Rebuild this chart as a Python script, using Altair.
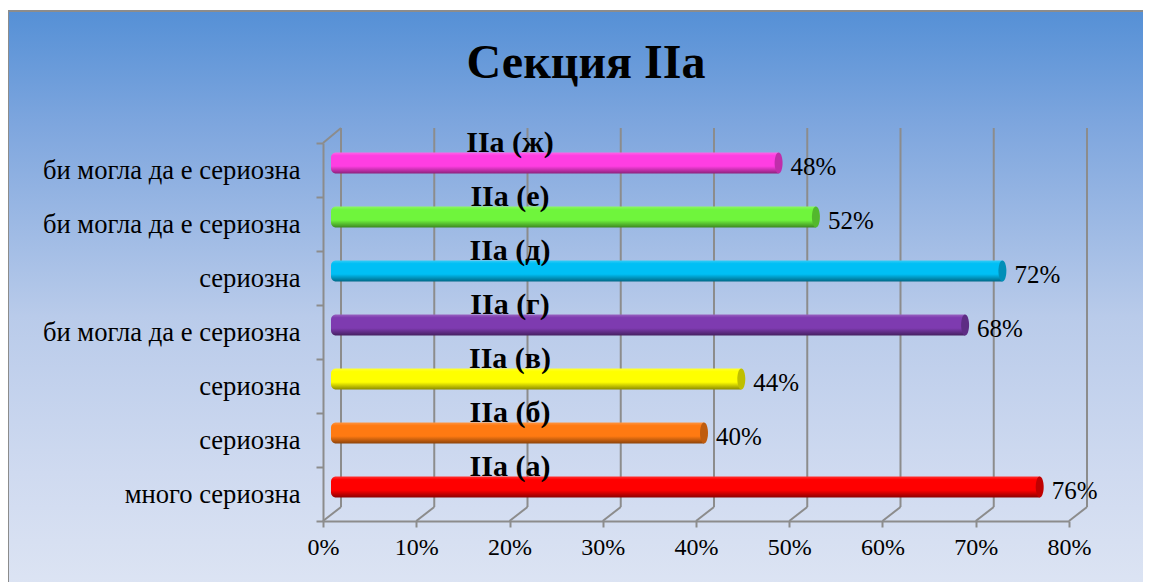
import altair as alt
import pandas as pd

# ---------------- data ----------------
keys = ["IIa (а)", "IIa (б)", "IIa (в)", "IIa (г)", "IIa (д)", "IIa (е)", "IIa (ж)"]
categories = ["много сериозна", "сериозна", "сериозна", "би могла да е сериозна",
              "сериозна", "би могла да е сериозна", "би могла да е сериозна"]
values = [0.76, 0.40, 0.44, 0.68, 0.72, 0.52, 0.48]
x_ticks = [0, 0.1, 0.2, 0.3, 0.4, 0.5, 0.6, 0.7, 0.8]
title_text = "Секция IIa"

# ---------------- style ----------------
bar_colors = ["#ff0000", "#ff7a12", "#ffff00", "#7e3bb0", "#00bff5", "#6ff53c", "#ff3ee2"]
FONT = "Liberation Serif"
GRID = "#8c8c8c"
W, H = 746, 378


def mix(hex_color, other, t):
    a = [int(hex_color[i:i + 2], 16) for i in (1, 3, 5)]
    b = [int(other[i:i + 2], 16) for i in (1, 3, 5)]
    c = [round(x + (y - x) * t) for x, y in zip(a, b)]
    return "#" + "".join(f"{v:02x}" for v in c)


df = pd.DataFrame({"idx": list(range(len(keys))), "key": keys, "cat": categories, "value": values})
ticks_df = pd.DataFrame({"t": x_ticks})
one = pd.DataFrame({"k": [0]})
title_df = pd.DataFrame({"title": [title_text]})

xscale = alt.Scale(domain=[0, 0.8], nice=False, zero=True)
yscale = alt.Scale(domain=list(range(len(keys) - 1, -1, -1)), paddingInner=0, paddingOuter=0)

label_expr = "[" + ",".join("'" + c + "'" for c in categories) + "][datum.value]"

xaxis = alt.Axis(values=x_ticks, format=".0%", labelFont=FONT, labelFontSize=24, labelColor="black",
                 tickSize=6, tickColor=GRID, tickWidth=2, domainColor=GRID, domainWidth=2,
                 labelPadding=8, grid=False, title=None, zindex=1, labelFlush=False,
                 labelOverlap=False)
yaxis = alt.Axis(labelExpr=label_expr, labelFont=FONT, labelFontSize=26.6, labelColor="black",
                 tickBand="extent", tickSize=7, tickColor=GRID, tickWidth=2, domainColor=GRID,
                 domainWidth=2, labelPadding=16, title=None, zindex=1, grid=False, labelAngle=0,
                 labelLimit=0)

X = lambda f: alt.X(f, scale=xscale, axis=xaxis, stack=None)
Y = alt.Y("idx:O", scale=yscale, axis=yaxis)

bg_grad = alt.LinearGradient(
    gradient="linear", x1=0, x2=0, y1=0, y2=1,
    stops=[alt.GradientStop(color="#5590d6", offset=0),
           alt.GradientStop(color="#7ea6de", offset=0.19),
           alt.GradientStop(color="#b9cbea", offset=0.51),
           alt.GradientStop(color="#cfdaf0", offset=0.77),
           alt.GradientStop(color="#dfe6f4", offset=1)])

background = alt.Chart(one).mark_rect(fill=bg_grad, stroke=GRID, strokeWidth=2).encode(
    x=alt.value(-315), x2=alt.value(W + 140), y=alt.value(-132), y2=alt.value(H + 90))

back_grid = alt.Chart(ticks_df).mark_rule(color=GRID, strokeWidth=2, xOffset=18).encode(
    x=X("t:Q"), y=alt.value(-15), y2=alt.value(H - 14))

floor_diag = alt.Chart(ticks_df).mark_rule(color=GRID, strokeWidth=2, x2Offset=18).encode(
    x=X("t:Q"), x2="t:Q", y=alt.value(H), y2=alt.value(H - 14))

wall_diag = alt.Chart(one).mark_rule(color=GRID, strokeWidth=2).encode(
    x=alt.value(0), x2=alt.value(18), y=alt.value(0), y2=alt.value(-15))

layers = [background, back_grid, floor_diag, wall_diag]

ellipse = "M0,-1A0.38,1,0,1,1,0,1A0.38,1,0,1,1,0,-1Z"
for i, col in enumerate(bar_colors):
    grad = alt.LinearGradient(
        gradient="linear", x1=0, x2=0, y1=0, y2=1,
        stops=[alt.GradientStop(color=mix(col, "#ffffff", 0.2), offset=0),
               alt.GradientStop(color=col, offset=0.15),
               alt.GradientStop(color=col, offset=0.65),
               alt.GradientStop(color=mix(col, "#000000", 0.45), offset=1)])
    base = alt.Chart(df).transform_filter(alt.datum.idx == i)
    bar = base.mark_bar(fill=grad, height=21, xOffset=8, x2Offset=8, yOffset=-7, y2Offset=-7,
                        cornerRadiusTopLeft=5, cornerRadiusBottomLeft=5).encode(
        x=X("value:Q"), x2=alt.datum(0), y=Y)
    cap = base.mark_point(shape=ellipse, size=441, filled=True, color=mix(col, "#000000", 0.25),
                          opacity=1, strokeWidth=0, xOffset=8, yOffset=-7).encode(x=X("value:Q"), y=Y)
    layers += [bar, cap]

value_labels = alt.Chart(df).mark_text(align="left", baseline="alphabetic", dx=20, dy=5,
                                       font=FONT, fontSize=25, color="black").encode(
    x=X("value:Q"), y=Y, text=alt.Text("value:Q", format=".0%"))

key_labels = alt.Chart(df).mark_text(align="center", baseline="alphabetic", dy=-18,
                                     font=FONT, fontSize=30, fontWeight="bold",
                                     color="black").encode(
    x=alt.value(187), y=Y, text="key:N")

title = alt.Chart(title_df).mark_text(align="center", baseline="alphabetic", font=FONT,
                                      fontSize=48, fontWeight="bold", color="black").encode(
    x=alt.value(263), y=alt.value(-65), text="title:N")

layers += [value_labels, key_labels, title]

chart = alt.layer(*layers).properties(
    width=W, height=H,
    autosize=alt.AutoSizeParams(type="none"),
    padding={"left": 315, "top": 135, "right": 74, "bottom": 61},
).configure_view(stroke=None).configure(background="white")

chart.save("out.html", embed_options={"renderer": "svg", "actions": False})
